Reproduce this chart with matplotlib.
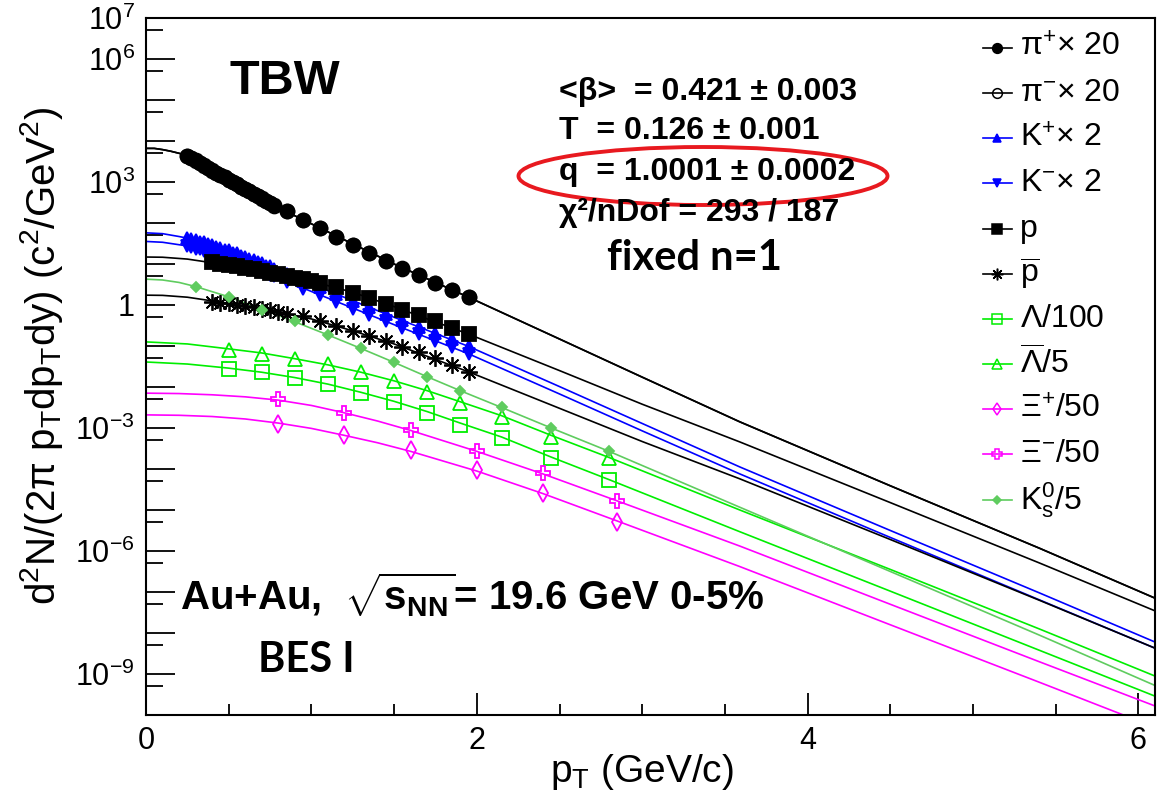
import numpy as np
import matplotlib.pyplot as plt
from matplotlib.patches import Ellipse
from matplotlib.lines import Line2D
from matplotlib.ticker import FixedLocator, FuncFormatter, MultipleLocator, NullFormatter

plt.rcParams['font.family'] = ['Liberation Sans', 'DejaVu Sans']
plt.rcParams['mathtext.fontset'] = 'custom'
plt.rcParams['mathtext.rm'] = 'Liberation Sans'
plt.rcParams['mathtext.it'] = 'Liberation Sans:italic'
plt.rcParams['mathtext.bf'] = 'Liberation Sans:bold'
plt.rcParams['mathtext.sf'] = 'Liberation Sans'
plt.rcParams['mathtext.default'] = 'regular'

# ---- data: pT (GeV/c) and log10 of the (scaled) yield ----
pi_pt = [0.25, 0.275, 0.30, 0.325, 0.35, 0.375, 0.40, 0.425, 0.45, 0.475, 0.50,
         0.525, 0.55, 0.575, 0.60, 0.625, 0.65, 0.675, 0.70, 0.725, 0.75, 0.775,
         0.85, 0.95, 1.05, 1.15, 1.25, 1.35, 1.45, 1.55, 1.65, 1.75, 1.85, 1.95]
pip_log = [3.64, 3.58, 3.53, 3.46, 3.41, 3.34, 3.29, 3.23, 3.18, 3.11, 3.06,
           3.00, 2.95, 2.88, 2.83, 2.77, 2.71, 2.66, 2.59, 2.54, 2.48, 2.43,
           2.29, 2.08, 1.88, 1.67, 1.47, 1.27, 1.08, 0.90, 0.72, 0.54, 0.36, 0.19]
pim_log = [3.63, 3.59, 3.52, 3.47, 3.40, 3.35, 3.28, 3.23, 3.17, 3.12, 3.05,
           3.00, 2.94, 2.89, 2.82, 2.77, 2.71, 2.65, 2.60, 2.53, 2.48, 2.42,
           2.29, 2.08, 1.87, 1.67, 1.47, 1.28, 1.08, 0.89, 0.72, 0.54, 0.37, 0.19]

k_pt = pi_pt
kp_log = [1.64, 1.60, 1.58, 1.54, 1.53, 1.48, 1.47, 1.42, 1.40, 1.35, 1.33,
          1.27, 1.26, 1.20, 1.18, 1.12, 1.10, 1.04, 1.02, 0.96, 0.94, 0.88,
          0.76, 0.59, 0.43, 0.26, 0.10, -0.06, -0.22, -0.37, -0.53, -0.68, -0.84, -1.00]
km_log = [1.44, 1.42, 1.37, 1.36, 1.31, 1.30, 1.25, 1.23, 1.19, 1.17, 1.12,
          1.10, 1.04, 1.03, 0.97, 0.95, 0.89, 0.87, 0.81, 0.79, 0.74, 0.70,
          0.57, 0.40, 0.24, 0.07, -0.09, -0.25, -0.40, -0.56, -0.71, -0.87, -1.03, -1.19]

p_pt = [0.40, 0.45, 0.50, 0.55, 0.60, 0.65, 0.70, 0.75, 0.80, 0.85, 0.90, 0.95,
        1.00, 1.05, 1.15, 1.25, 1.35, 1.45, 1.55, 1.65, 1.75, 1.85, 1.95]
p_log = [1.04, 1.01, 0.98, 0.94, 0.91, 0.87, 0.83, 0.79, 0.75, 0.71, 0.67, 0.63,
         0.58, 0.53, 0.44, 0.30, 0.16, 0.03, -0.11, -0.25, -0.40, -0.55, -0.71]

pbar_pt = [0.40, 0.45, 0.50, 0.55, 0.60, 0.65, 0.70, 0.75, 0.80, 0.85,
           0.95, 1.05, 1.15, 1.25, 1.35, 1.45, 1.55, 1.65, 1.75, 1.85, 1.95]
pbar_log = [0.08, 0.06, 0.04, 0.01, -0.02, -0.05, -0.09, -0.13, -0.17, -0.21,
            -0.28, -0.40, -0.51, -0.63, -0.76, -0.88, -1.02, -1.14, -1.30, -1.46, -1.63]

lam_pt = [0.5, 0.7, 0.9, 1.1, 1.3, 1.5, 1.7, 1.9, 2.15, 2.45, 2.8]
lam_log = [-1.56, -1.64, -1.77, -1.92, -2.15, -2.37, -2.63, -2.92, -3.24, -3.73, -4.27]
alam_log = [-1.10, -1.20, -1.31, -1.45, -1.64, -1.85, -2.11, -2.40, -2.74, -3.22, -3.73]

xi_pt = [0.8, 1.2, 1.6, 2.0, 2.4, 2.85]
xip_log = [-2.90, -3.17, -3.53, -4.03, -4.58, -5.29]
xim_log = [-2.30, -2.63, -3.05, -3.56, -4.10, -4.78]

ks_pt = [0.3, 0.5, 0.7, 0.9, 1.1, 1.3, 1.5, 1.7, 1.9, 2.15, 2.45, 2.8]
ks_log = [0.44, 0.20, -0.12, -0.40, -0.72, -1.05, -1.40, -1.76, -2.10, -2.48, -2.99, -3.56]

# TBW fit curves, sampled off the plot (log10 yield)
fit_pi_pt = [0, 0.05, 0.1, 0.15, 0.2, 0.25, 0.5, 0.75, 1.0, 1.5, 1.95, 2.5, 3.0, 3.59, 4.5, 5.4, 6.1]
fit_pi_log = [3.82, 3.82, 3.79, 3.75, 3.70, 3.64, 3.06, 2.47, 1.98, 1.00, 0.19, -0.83, -1.76, -2.85, -4.41, -5.93, -7.15]
fit_k_pt = [0, 0.1, 0.2, 0.25, 0.5, 0.75, 1.0, 1.5, 1.95, 2.5, 3.0, 3.59, 4.5, 5.4, 6.1]
fit_kp_log = [1.76, 1.74, 1.67, 1.63, 1.31, 0.92, 0.51, -0.30, -1.01, -1.99, -2.89, -3.95, -5.50, -7.02, -8.22]
fit_km_log = [1.55, 1.53, 1.47, 1.44, 1.12, 0.74, 0.33, -0.48, -1.19, -2.17, -3.07, -4.12, -5.67, -7.19, -8.37]
fit_p_pt = [0, 0.1, 0.25, 0.5, 0.75, 1.0, 1.25, 1.5, 1.95, 2.5, 3.0, 3.59, 4.5, 5.4, 6.1]
fit_p_log = [1.17, 1.165, 1.12, 0.97, 0.79, 0.58, 0.31, -0.04, -0.71, -1.60, -2.42, -3.34, -4.82, -6.29, -7.46]
fit_pbar_log = [0.24, 0.235, 0.19, 0.04, -0.13, -0.34, -0.63, -0.95, -1.63, -2.52, -3.33, -4.24, -5.72, -7.20, -8.37]
fit_lam_pt = [0, 0.25, 0.5, 0.7, 0.9, 1.1, 1.3, 1.5, 1.7, 1.9, 2.15, 2.45, 2.8, 3.59, 4.5, 5.4, 6.1]
fit_lam_log = [-1.39, -1.44, -1.54, -1.64, -1.77, -1.93, -2.13, -2.35, -2.60, -2.88, -3.22, -3.71, -4.26, -5.53, -6.98, -8.42, -9.54]
fit_alam_log = [-0.90, -0.95, -1.07, -1.17, -1.31, -1.46, -1.64, -1.85, -2.09, -2.36, -2.70, -3.18, -3.72, -5.00, -6.45, -7.90, -9.05]
fit_xi_pt = [0, 0.2, 0.4, 0.6, 0.8, 1.0, 1.2, 1.4, 1.6, 2.0, 2.4, 2.85, 3.59, 4.5, 5.4, 6.1]
fit_xip_log = [-2.68, -2.69, -2.72, -2.78, -2.88, -3.01, -3.18, -3.36, -3.57, -4.05, -4.60, -5.27, -6.38, -7.80, -9.20, -10.30]
fit_xim_log = [-2.15, -2.16, -2.19, -2.24, -2.32, -2.45, -2.63, -2.83, -3.06, -3.57, -4.12, -4.78, -5.88, -7.30, -8.70, -9.78]
fit_ks_pt = [0, 0.1, 0.2, 0.3, 0.5, 0.7, 0.9, 1.1, 1.3, 1.5, 1.7, 1.9, 2.15, 2.45, 2.8, 3.6, 4.5, 5.4, 6.1]
fit_ks_log = [0.63, 0.61, 0.55, 0.45, 0.20, -0.10, -0.41, -0.73, -1.06, -1.40, -1.75, -2.09, -2.50, -3.00, -3.57, -4.95, -6.50, -8.05, -9.28]

labels = [r'$\pi^{+}$× 20', r'$\pi^{-}$× 20', r'K$^{+}$× 2', r'K$^{-}$× 2', 'p',
          r'$\overline{\mathrm{p}}$', r'$\Lambda$/100', r'$\overline{\Lambda}$/5',
          r'$\Xi^{+}$/50', r'$\Xi^{-}$/50', r'$\mathrm{K}^{0}_{\mathrm{s}}$/5']

BLK, BLU, GRN, MAG, LGR = 'black', '#0000ff', '#00ee00', '#ff00ff', '#5fcc5f'

# (data pt, data log, fit pt, fit log, colour, marker, filled, marker size)
series = [
    (pi_pt, pim_log, fit_pi_pt, fit_pi_log, BLK, 'o', False, 10),
    (pi_pt, pip_log, fit_pi_pt, fit_pi_log, BLK, 'o', True, 10),
    (k_pt, kp_log, fit_k_pt, fit_kp_log, BLU, '^', True, 9),
    (k_pt, km_log, fit_k_pt, fit_km_log, BLU, 'v', True, 9),
    (p_pt, p_log, fit_p_pt, fit_p_log, BLK, 's', True, 9.5),
    (pbar_pt, pbar_log, fit_p_pt, fit_pbar_log, BLK, (8, 2, 0), True, 12),
    (lam_pt, lam_log, fit_lam_pt, fit_lam_log, GRN, 's', False, 10),
    (lam_pt, alam_log, fit_lam_pt, fit_alam_log, GRN, '^', False, 10),
    (xi_pt, xip_log, fit_xi_pt, fit_xip_log, MAG, 'd', False, 9),
    (xi_pt, xim_log, fit_xi_pt, fit_xim_log, MAG, 'P', False, 10),
    (ks_pt, ks_log, fit_ks_pt, fit_ks_log, LGR, 'D', True, 5.5),
]
# legend order: pi+, pi-, K+, K-, p, pbar, Lambda, Lambdabar, Xi+, Xi-, Ks
legend_order = [1, 0, 2, 3, 4, 5, 6, 7, 8, 9, 10]

fig = plt.figure(figsize=(11.69, 7.95), dpi=100)
ax = fig.add_axes([146 / 1169, 80 / 795, 1009 / 1169, 697 / 795])

for xs, ys, fx, fy, col, mk, filled, ms in series:
    ax.plot(fx, 10.0 ** np.array(fy), color=col, lw=1.2, zorder=2)
for xs, ys, fx, fy, col, mk, filled, ms in series:
    ax.plot(xs, 10.0 ** np.array(ys), ls='none', marker=mk, ms=ms, mec=col,
            mfc=col if filled else 'none', mew=1.3, zorder=3)

ax.set_yscale('log')
ax.set_xlim(0, 6.1)
ax.set_ylim(1e-10, 1e7)

shown = {7, 6, 3, 0, -3, -6, -9}


def ylab(v, pos):
    e = int(round(np.log10(v)))
    if e not in shown:
        return ''
    if e == 0:
        return '1'
    return r'$10^{%d}$' % e


ax.yaxis.set_major_locator(FixedLocator(10.0 ** np.arange(-10, 8)))
ax.yaxis.set_minor_locator(FixedLocator(5 * 10.0 ** np.arange(-11, 7)))
ax.yaxis.set_major_formatter(FuncFormatter(ylab))
ax.yaxis.set_minor_formatter(NullFormatter())
ax.xaxis.set_major_locator(MultipleLocator(2))
ax.xaxis.set_minor_locator(MultipleLocator(0.5))

ax.tick_params(axis='both', which='both', direction='in', top=False, right=False,
               labelsize=22, width=1.3, pad=8)
ax.tick_params(axis='y', which='major', length=21)
ax.tick_params(axis='y', which='minor', length=12)
ax.tick_params(axis='x', which='major', length=16)
ax.tick_params(axis='x', which='minor', length=8)
for sp in ax.spines.values():
    sp.set_linewidth(1.5)

# legend drawn by hand inside the frame
for i, idx in enumerate(legend_order):
    xs, ys, fx, fy, col, mk, filled, ms = series[idx]
    yy = 0.957 - i * 0.0648
    ax.add_line(Line2D([0.8295, 0.8583], [yy, yy], transform=ax.transAxes, color=col, lw=1.2))
    ax.add_line(Line2D([0.8439], [yy], transform=ax.transAxes, marker=mk, ms=ms * 0.7,
                       mec=col, mfc=col if filled else 'none', mew=1.1))
    ax.text(0.866, yy, labels[i], transform=ax.transAxes, fontsize=23, va='center', ha='left')

# annotations
fig.text(229 / 1169, 1 - 82 / 795, 'TBW', fontsize=35, fontweight='bold', va='center')
fit_lines = ['<β>  = 0.421 ± 0.003', 'T  = 0.126 ± 0.001',
             'q  = 1.0001 ± 0.0002', 'χ²/nDof = 293 / 187']
for line, yp in zip(fit_lines, [92, 131, 172, 213]):
    fig.text(559 / 1169, 1 - yp / 795, line, fontsize=23, fontweight='bold', va='center')
fig.text(607 / 1169, 1 - 270 / 795, 'fixed n=1', fontsize=30, family='Lato',
         fontweight='bold', va='baseline')
fig.patches.append(Ellipse((703 / 1169, 1 - 176 / 795), 369 / 1169, 58 / 795,
                           transform=fig.transFigure, fill=False, ec='#e8191f', lw=2.8))
fig.text(180 / 1169, 1 - 610 / 795,
         r'Au+Au,  $\mathbf{\sqrt{s_{NN}}}$= 19.6 GeV 0-5%',
         fontsize=29, fontweight='bold', va='baseline')
fig.text(258 / 1169, 1 - 672 / 795, 'BES I', fontsize=30, family='Lato',
         fontweight='bold', va='baseline')

fig.text(42 / 1169, 1 - 356 / 795,
         r'd$^{2}$N/(2π p$_{T}$dp$_{T}$dy) (c$^{2}$/GeV$^{2}$)',
         fontsize=29, rotation=90, ha='center', va='center')
fig.text(642 / 1169, 1 - 782 / 795, r'p$_{T}$ (GeV/c)', fontsize=28, ha='center', va='baseline')

fig.savefig('out.png', dpi=100)
